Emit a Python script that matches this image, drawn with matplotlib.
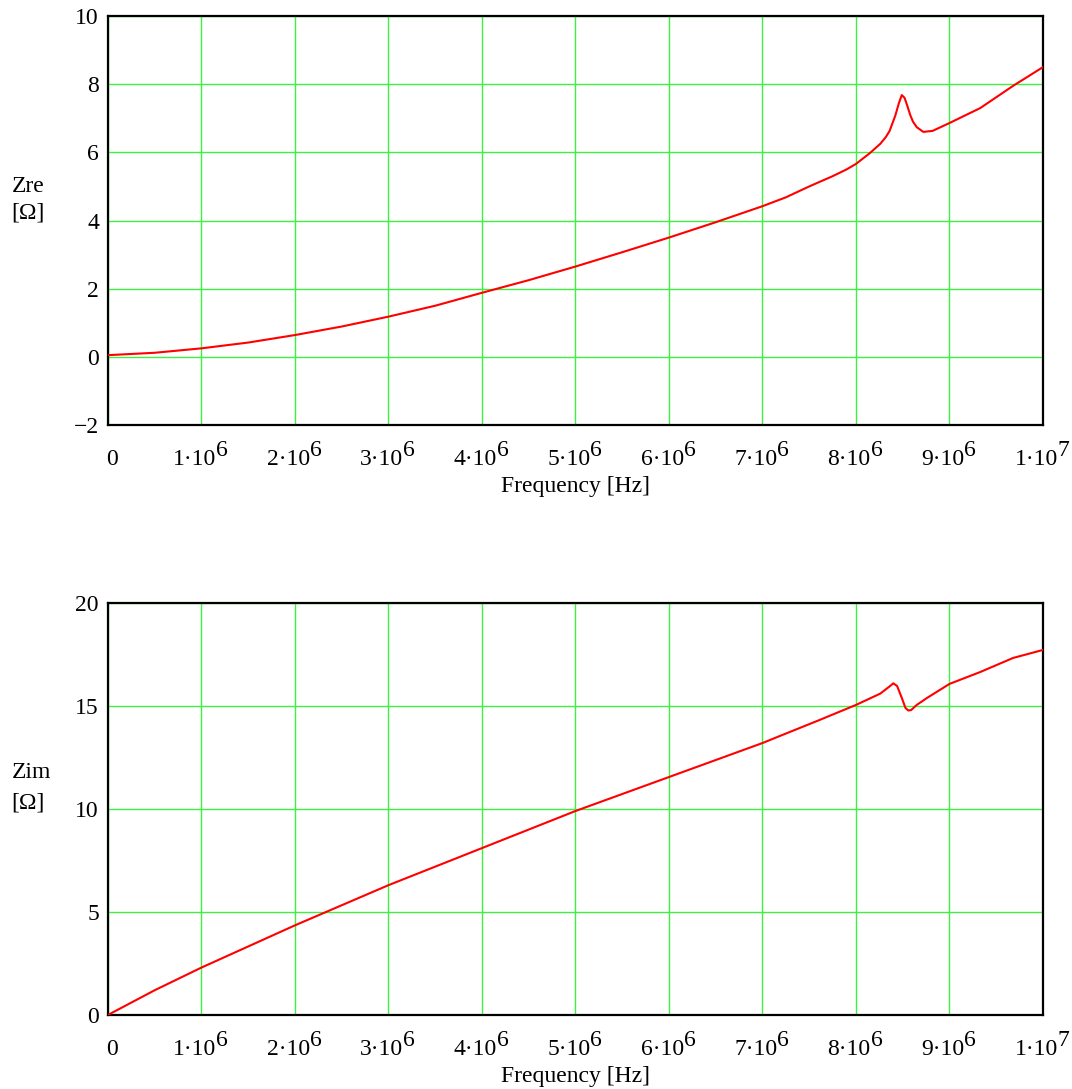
import numpy as np
import matplotlib.pyplot as plt

plt.rcParams["font.family"] = "Liberation Serif"
plt.rcParams["font.size"] = 17

# frequency points in MHz and the measured impedance parts
f_re = [0, 0.5, 1, 1.5, 2, 2.5, 3, 3.5, 4, 4.5, 5, 5.5, 6, 6.5, 7, 7.25, 7.5,
        7.75, 7.9, 8.0, 8.15, 8.26, 8.32, 8.36, 8.42, 8.46, 8.49, 8.52, 8.55,
        8.58, 8.61, 8.65, 8.72, 8.82, 9.0, 9.33, 9.68, 10]
z_re = [0.05, 0.12, 0.25, 0.42, 0.64, 0.89, 1.18, 1.5, 1.88, 2.25, 2.65, 3.07,
        3.5, 3.95, 4.42, 4.68, 5.0, 5.3, 5.5, 5.66, 5.98, 6.25, 6.45, 6.63,
        7.07, 7.45, 7.68, 7.6, 7.36, 7.1, 6.9, 6.74, 6.6, 6.63, 6.86, 7.3,
        7.95, 8.5]

f_im = [0, 0.5, 1, 2, 3, 4, 5, 6, 7, 7.19, 7.6, 8.0, 8.26, 8.36, 8.4, 8.44,
        8.49, 8.53, 8.56, 8.59, 8.65, 8.76, 9.0, 9.33, 9.68, 10]
z_im = [0, 1.2, 2.3, 4.35, 6.3, 8.1, 9.9, 11.55, 13.2, 13.55, 14.3, 15.05,
        15.6, 15.95, 16.1, 15.97, 15.4, 14.9, 14.78, 14.8, 15.05, 15.39,
        16.07, 16.65, 17.33, 17.72]

x_ticks = list(range(11))
x_mant = ["0"] + ["%d\u00b710" % k for k in range(1, 10)] + ["1\u00b710"]
x_expo = [""] + ["6"] * 9 + ["7"]

fig = plt.figure(figsize=(10.72, 10.89), dpi=100)
ax1 = fig.add_axes([0.1007, 0.6097, 0.8722, 0.3756])
ax2 = fig.add_axes([0.1007, 0.0680, 0.8722, 0.3783])

panels = [
    (ax1, f_re, z_re, (-2, 10), np.arange(-2, 11, 2), "Zre", 0.570, 0.504),
    (ax2, f_im, z_im, (0, 20), np.arange(0, 21, 5), "Zim", 0.575, 0.502),
]

fs = 17
for ax, f, z, ylim, yticks, name, y1, y2 in panels:
    ax.plot(np.array(f) * 1e6, z, color="#ff0000", lw=1.5, zorder=3)
    ax.set_xlim(0, 1e7)
    ax.set_ylim(*ylim)
    ax.set_xticks(np.array(x_ticks) * 1e6)
    ax.set_xticklabels([])
    ax.set_yticks(yticks)
    ax.grid(True, color="#40f040", lw=1.0)
    ax.tick_params(length=0, pad=6.5, labelsize=fs)
    for s in ax.spines.values():
        s.set_color("black")
        s.set_linewidth(1.6)

    # x tick labels written as mantissa with a raised exponent
    tr = ax.get_xaxis_transform()
    for k, m, e in zip(x_ticks, x_mant, x_expo):
        x = k * 1e6
        if not e:
            ax.annotate(m, (x, 0), xycoords=tr, xytext=(3, -29),
                        textcoords="offset points", ha="center", va="baseline",
                        fontsize=fs, annotation_clip=False)
            continue
        shift = 0.625 * fs
        ax.annotate(m, (x, 0), xycoords=tr, xytext=(shift, -29),
                    textcoords="offset points", ha="right", va="baseline",
                    fontsize=fs, annotation_clip=False)
        ax.annotate(e, (x, 0), xycoords=tr, xytext=(shift, -22.5),
                    textcoords="offset points", ha="left", va="baseline",
                    fontsize=fs, annotation_clip=False)

    ax.annotate("Frequency [Hz]", (0.5, 0), xycoords="axes fraction",
                xytext=(0, -48), textcoords="offset points",
                ha="center", va="baseline", fontsize=fs)
    ax.text(-0.103, y1, name, transform=ax.transAxes, ha="left", va="baseline",
            fontsize=fs)
    ax.text(-0.103, y2, "[\u03a9]", transform=ax.transAxes, ha="left",
            va="baseline", fontsize=fs)

fig.savefig("out.png", dpi=100)
